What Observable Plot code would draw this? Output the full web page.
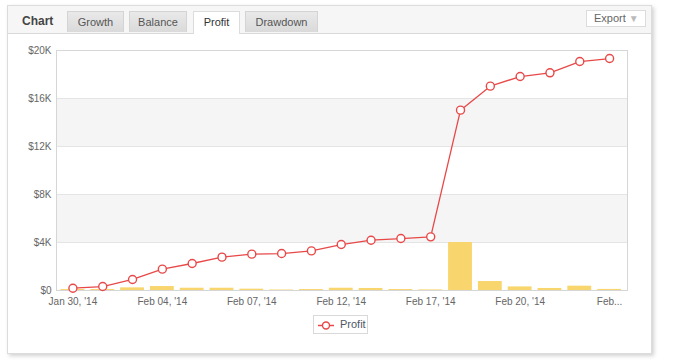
<!DOCTYPE html>
<html>
<head>
<meta charset="utf-8">
<script src="https://cdn.jsdelivr.net/npm/d3@7"></script>
<script src="https://cdn.jsdelivr.net/npm/@observablehq/plot@0.6"></script>
<style>
  html, body { margin: 0; padding: 0; background: #fff; width: 676px; height: 364px; overflow: hidden; font-family: "Liberation Sans", Arial, sans-serif; }
  #panel { position: absolute; left: 7px; top: 5px; width: 643px; height: 347px; border: 1px solid #dcdcdc; background: #fff; box-shadow: 2px 2px 4px rgba(0,0,0,0.18); }
  #header { position: absolute; left: 0; top: 0; width: 643px; height: 27px; background: #f6f6f6; border-bottom: 1px solid #d9d9d9; }
  #title { position: absolute; left: 14px; top: 8px; font-size: 12px; font-weight: bold; color: #444; }
  .tab { position: absolute; top: 5px; height: 21px; box-sizing: border-box; border: 1px solid #d4d4d4; border-bottom: none; background: linear-gradient(#e9e9e9, #dadada); color: #555; font-size: 11px; text-align: center; line-height: 21px; }
  .tab.active { background: #fff; height: 23px; color: #333; border-color: #dcdcdc; }
  #export { position: absolute; left: 578px; top: 4px; width: 60px; height: 17px; box-sizing: border-box; border: 1px solid #dcdcdc; background: #fff; font-size: 11px; color: #666; line-height: 15px; padding-left: 7px; }
  #export span { color: #bbb; font-size: 10px; margin-left: 3px; }
  #chart { position: absolute; left: 0; top: 0; }
  #legend { position: absolute; left: 313px; top: 315px; width: 55px; height: 19px; box-sizing: border-box; border: 1px solid #d9d9d9; background: #fff; font-size: 11px; color: #4d5866; }
  #legend svg { position: absolute; left: 3px; top: 4px; }
  #legend .lbl { position: absolute; left: 26px; top: 2px; }
</style>
</head>
<body>
<div id="panel">
  <div id="header">
    <div id="title">Chart</div>
    <div class="tab" style="left:59px;width:57px;">Growth</div>
    <div class="tab" style="left:121px;width:58px;">Balance</div>
    <div class="tab active" style="left:185px;width:47px;">Profit</div>
    <div class="tab" style="left:237px;width:73px;">Drawdown</div>
    <div id="export">Export<span>&#9660;</span></div>
  </div>
</div>
<div id="chart"></div>
<div id="legend"><svg width="20" height="10"></svg><span class="lbl">Profit</span></div>
<script>
const dates = ["Jan 30, '14","Jan 31, '14","Feb 03, '14","Feb 04, '14","Feb 05, '14","Feb 06, '14","Feb 07, '14","Feb 10, '14","Feb 11, '14","Feb 12, '14","Feb 13, '14","Feb 14, '14","Feb 17, '14","Feb 18, '14","Feb 19, '14","Feb 20, '14","Feb 21, '14","Feb 24, '14","Feb 25, '14"];
const profit = [190, 330, 920, 1780, 2250, 2780, 3030, 3080, 3300, 3830, 4190, 4330, 4470, 15030, 17030, 17830, 18140, 19080, 19330];
const daily = [80, 80, 220, 330, 190, 190, 110, 40, 80, 190, 170, 80, 50, 4000, 750, 300, 170, 360, 90];
const xTickDates = ["Jan 30, '14","Feb 04, '14","Feb 07, '14","Feb 12, '14","Feb 17, '14","Feb 20, '14","Feb 25, '14"];
const xTickLabels = ["Jan 30, '14","Feb 04, '14","Feb 07, '14","Feb 12, '14","Feb 17, '14","Feb 20, '14","Feb..."];
const yTicks = [0, 4000, 8000, 12000, 16000, 20000];
const yTickLabels = ["$0", "$4K", "$8K", "$12K", "$16K", "$20K"];
const bandStarts = [4000, 12000];
const bandEnds = [8000, 16000];

const rows = dates.map((d, i) => ({date: d, profit: profit[i], daily: daily[i]}));
const bands = bandStarts.map((s, i) => ({y1: s, y2: bandEnds[i]}));
const lineColor = "#e84848";

const chart = Plot.plot({
  width: 676,
  height: 312,
  marginLeft: 56,
  marginRight: 49,
  marginTop: 50,
  marginBottom: 22,
  style: {fontFamily: "'Liberation Sans', Arial, sans-serif", fontSize: "10px", color: "#666", background: "transparent", overflow: "visible"},
  x: {type: "band", domain: dates, range: [57.5, 624], paddingInner: 0.2, paddingOuter: 0.1, round: false},
  y: {domain: [0, 20000]},
  marks: [
    Plot.rect(bands, {y1: "y1", y2: "y2", fill: "#f5f5f5"}),
    Plot.ruleY(yTicks, {stroke: "#e4e4e4"}),
    Plot.frame({stroke: "#d6d6d6"}),
    Plot.barY(rows, {x: "date", y: "daily", fill: "#f9d56e"}),
    Plot.line(rows, {x: "date", y: "profit", stroke: lineColor, strokeWidth: 1.3}),
    Plot.dot(rows, {x: "date", y: "profit", r: 4, fill: "#fff", stroke: lineColor, strokeWidth: 1.4}),
    Plot.axisY({ticks: yTicks, tickFormat: d => yTickLabels[yTicks.indexOf(d)], tickSize: 0, tickPadding: 5, label: null, fill: "#666"}),
    Plot.axisX({ticks: xTickDates, tickFormat: d => xTickLabels[xTickDates.indexOf(d)], tickSize: 0, tickPadding: 7, label: null, fill: "#666"})
  ]
});
document.getElementById("chart").appendChild(chart);

// legend symbol
const ls = d3.select("#legend svg");
ls.append("line").attr("x1", 1).attr("x2", 17).attr("y1", 5.5).attr("y2", 5.5).attr("stroke", lineColor).attr("stroke-width", 1.5);
ls.append("circle").attr("cx", 9).attr("cy", 5.5).attr("r", 3.5).attr("fill", "#fff").attr("stroke", lineColor).attr("stroke-width", 1.4);
</script>
</body>
</html>
